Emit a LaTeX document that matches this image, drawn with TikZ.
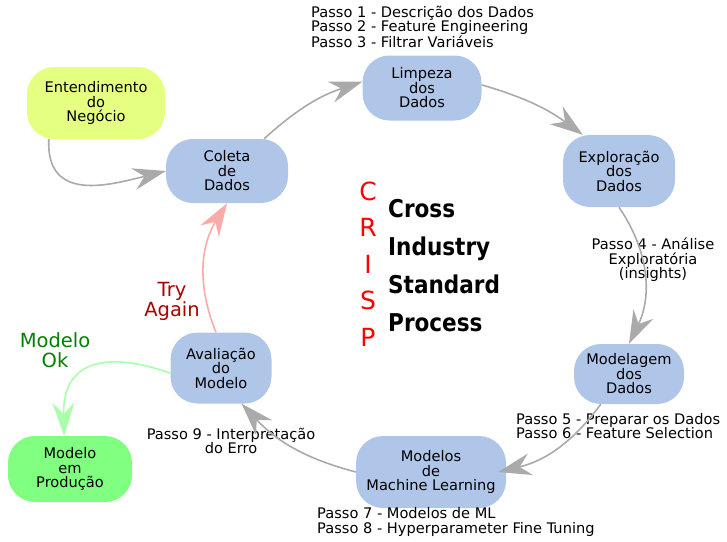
\documentclass[tikz,border=0pt]{standalone}
\usepackage{fontspec}
\setmainfont{DejaVu Sans}
\newfontfamily\condfont[FakeStretch=0.88]{DejaVu Sans}
\usepackage{tikz}
\usetikzlibrary{arrows.meta,positioning}
\definecolor{stageblue}{RGB}{175,198,233}
\definecolor{startyellow}{RGB}{229,255,128}
\definecolor{prodgreen}{RGB}{128,255,128}
\definecolor{flowgray}{RGB}{170,170,170}
\definecolor{retrypink}{RGB}{255,170,170}
\definecolor{okgreen}{RGB}{170,255,170}
\definecolor{tryred}{RGB}{170,0,0}
\definecolor{okdark}{RGB}{0,128,0}

\begin{document}
\begin{tikzpicture}[x=1pt,y=-1pt,
  font=\fontsize{14.6}{14.5}\selectfont,
  stage/.style={fill=stageblue,rounded corners=27pt,align=center,inner sep=0pt},
  startbox/.style={stage,fill=startyellow},
  prodbox/.style={stage,fill=prodgreen},
  note/.style={inner sep=0pt,align=left},
  big/.style={inner sep=0pt,align=center,font=\fontsize{19.5}{20}\selectfont},
  letter/.style={inner sep=0pt,anchor=base,text=red,font=\fontsize{25}{25}\selectfont},
  word/.style={inner sep=0pt,anchor=base west,font=\condfont\bfseries\fontsize{24.5}{24.5}\selectfont},
  flow/.style={draw=flowgray,line width=1.6pt,-{Stealth[length=33pt,width=22pt,inset=11pt]}},
  retry/.style={flow,draw=retrypink},
  done/.style={flow,draw=okgreen}
]
\useasboundingbox (0,0) rectangle (727,541);
% the CRISP cycle
\node[startbox,minimum width=138pt,minimum height=72pt] (ent) at (96,103) {Entendimento\\do\\Negócio};
\node[stage,minimum width=122pt,minimum height=64pt] (col) at (227,171) {Coleta\\de\\Dados};
\node[stage,minimum width=119pt,minimum height=65pt] (lim) at (422,88) {Limpeza\\dos\\Dados};
\node[stage,minimum width=112pt,minimum height=72pt] (exp) at (619,171) {Exploração\\dos\\Dados};
\node[stage,minimum width=110pt,minimum height=60pt] (mod) at (629,374) {Modelagem\\dos\\Dados};
\node[stage,minimum width=150pt,minimum height=72pt] (ml) at (431,472) {Modelos\\de\\Machine Learning};
\node[stage,minimum width=101pt,minimum height=71pt] (ava) at (221,368) {Avaliação\\do\\Modelo};
\node[prodbox,minimum width=124pt,minimum height=66pt] (prod) at (70,469) {Modelo\\em\\Produção};
% steps
\node[note,anchor=west] (p13) at (311,27) {Passo 1 - Descrição dos Dados\\Passo 2 - Feature Engineering\\Passo 3 - Filtrar Variáveis};
\node[note,align=center] (p4) at (653,260) {Passo 4 - Análise\\Exploratória\\(insights)};
\node[note,anchor=west] (p56) at (516,426) {Passo 5 - Preparar os Dados\\Passo 6 - Feature Selection};
\node[note,anchor=west] (p78) at (317,522) {Passo 7 - Modelos de ML\\Passo 8 - Hyperparameter Fine Tuning};
\node[note,align=center] (p9) at (231,441) {Passo 9 - Interpretação\\do Erro};
\node[big,text=tryred] (try) at (172,301) {Try\\Again};
\node[big,text=okdark] (ok) at (55,350) {Modelo\\Ok};
% title in the middle
\foreach \l [count=\i] in {C,R,I,S,P}
  \node[letter] (l\i) at (368,163.5+36.5*\i) {\l};
\foreach \w [count=\i] in {Cross,Industry,Standard,Process}
  \node[word] (w\i) at (388,179+38*\i) {\w};
% arrows
\draw[flow] ([xshift=22pt]ent.south west) .. controls +(-3,64) and +(-56,14) .. (col.west);
\draw[flow] (col.41) to[bend left=12] (lim.174);
\draw[flow] (lim.3) to[bend left=10] (exp.135);
\draw[flow] (exp.south) to[bend left=30] (mod.north);
\draw[flow] (mod.-133) to[bend left=20] ([xshift=-8pt]ml.east);
\draw[flow] (ml.west) to[bend left=16] (ava.-60);
\draw[retry] (ava.98) to[bend left=27] (col.south);
\draw[done] (ava.186) .. controls +(-45,-17) and +(-2,-86) .. (prod.100);
\end{tikzpicture}
\end{document}
